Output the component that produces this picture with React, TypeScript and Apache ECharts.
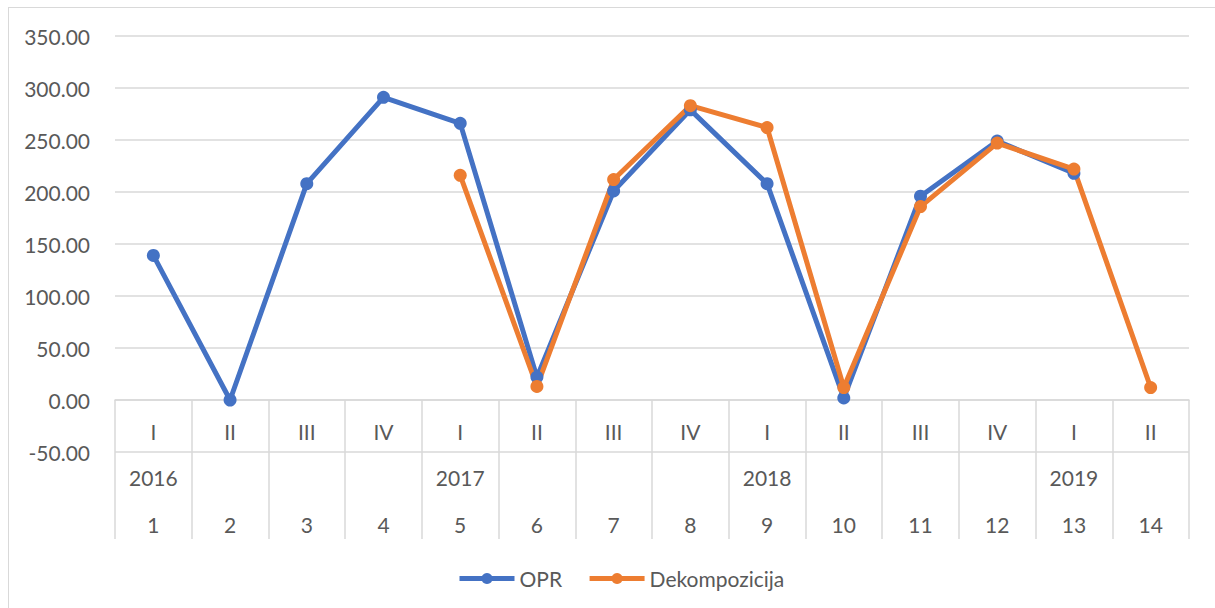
import React, { useEffect, useRef } from "react";
import * as echarts from "echarts";

const quarters = ["I", "II", "III", "IV", "I", "II", "III", "IV", "I", "II", "III", "IV", "I", "II"];
const years = ["2016", "", "", "", "2017", "", "", "", "2018", "", "", "", "2019", ""];
const indices = ["1", "2", "3", "4", "5", "6", "7", "8", "9", "10", "11", "12", "13", "14"];
const oprValues: (number | null)[] = [139, 0, 208, 291, 266, 22, 201, 279, 208, 2, 196, 249, 218, null];
const dekValues: (number | null)[] = [null, null, null, null, 216, 13, 212, 283, 262, 12, 186, 247, 222, 12];
const yTicks = { min: -50, max: 350, interval: 50 };

const FONT = "Lato";
const TEXT = "#595959";
const GRIDC = "#d9d9d9";

export default function App() {
  const ref = useRef<HTMLDivElement>(null);
  useEffect(() => {
    if (!ref.current) return;
    const chart = echarts.init(ref.current, undefined, { renderer: "svg" });
    const labelBase = { color: TEXT, fontFamily: FONT, fontSize: 21, interval: 0 };
    chart.setOption({
      animation: false,
      textStyle: { fontFamily: FONT },
      grid: { left: 115, right: 26, top: 36, bottom: 156, containLabel: false },
      xAxis: [
        {
          type: "category",
          data: quarters,
          boundaryGap: true,
          position: "bottom",
          offset: -52,
          axisLine: { show: true, onZero: false, lineStyle: { color: GRIDC, width: 1.5 } },
          axisTick: { show: true, length: 139, interval: 0, lineStyle: { color: GRIDC, width: 1.5 } },
          axisLabel: { ...labelBase, margin: 21 },
          splitLine: { show: false },
        },
        {
          type: "category",
          data: years,
          position: "bottom",
          boundaryGap: true,
          axisLine: { show: false, onZero: false },
          axisTick: { show: false },
          axisLabel: { ...labelBase, margin: 15 },
        },
        {
          type: "category",
          data: indices,
          position: "bottom",
          boundaryGap: true,
          axisLine: { show: false, onZero: false },
          axisTick: { show: false },
          axisLabel: { ...labelBase, margin: 62 },
        },
      ],
      yAxis: {
        type: "value",
        min: yTicks.min,
        max: yTicks.max,
        interval: yTicks.interval,
        axisLine: { show: false },
        axisTick: { show: false },
        axisLabel: { ...labelBase, margin: 25, formatter: (v: number) => v.toFixed(2) },
        splitLine: { show: true, lineStyle: { color: GRIDC, width: 1.5 } },
      },
      legend: {
        left: 452,
        top: 563,
        itemWidth: 55,
        itemHeight: 14,
        itemGap: 25,
        lineStyle: { width: 5 },
        textStyle: { color: TEXT, fontFamily: FONT, fontSize: 21 },
        data: ["OPR", "Dekompozicija"],
      },
      series: [
        {
          name: "OPR",
          type: "line",
          data: oprValues,
          xAxisIndex: 0,
          symbol: "circle",
          symbolSize: 13,
          showAllSymbol: true,
          connectNulls: false,
          itemStyle: { color: "#4472C4" },
          lineStyle: { color: "#4472C4", width: 5 },
        },
        {
          name: "Dekompozicija",
          type: "line",
          data: dekValues,
          xAxisIndex: 0,
          symbol: "circle",
          symbolSize: 13,
          showAllSymbol: true,
          connectNulls: false,
          itemStyle: { color: "#ED7D31" },
          lineStyle: { color: "#ED7D31", width: 5 },
        },
      ],
    });
    return () => chart.dispose();
  }, []);
  return (
    <div style={{ position: "fixed", left: 0, top: 0, width: 1215, height: 608, overflow: "hidden", background: "#fff" }}>
      <div style={{ position: "absolute", left: 8, top: 7, width: 1240, height: 640, border: "1.5px solid #d9d9d9", boxSizing: "border-box" }} />
      <div ref={ref} style={{ position: "absolute", left: 0, top: 0, width: 1215, height: 608 }} />
    </div>
  );
}
